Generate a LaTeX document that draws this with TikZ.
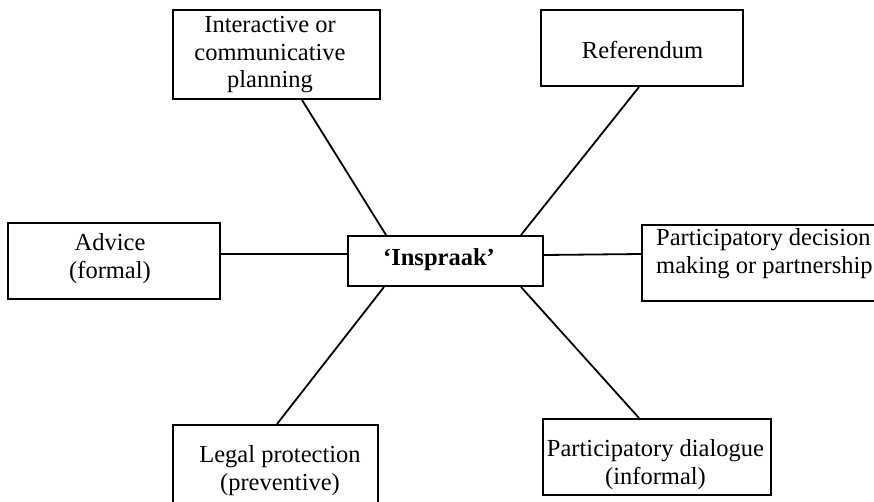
\documentclass[tikz,border=0pt]{standalone}
\usepackage{fontspec}
\setmainfont{Liberation Serif}
\begin{document}
\begin{tikzpicture}[x=1pt,y=-1pt,
  box/.style={draw, line width=2pt, inner sep=0pt},
  txt/.style={inner sep=0pt, align=center, font=\fontsize{24.5}{28}\selectfont},
  conn/.style={line width=1.8pt}]
\useasboundingbox (0,0) rectangle (874,501);
\clip (0,0) rectangle (874,501);
% boxes
\node[box, minimum width=207pt, minimum height=89pt] (inter) at (276.5,54.5) {};
\node[box, minimum width=202pt, minimum height=76pt] (ref) at (642,48) {};
\node[box, minimum width=212pt, minimum height=76pt] (adv) at (114,261) {};
\node[box, minimum width=258pt, minimum height=76pt] (pdm) at (771,263) {};
\node[box, minimum width=205pt, minimum height=95pt] (leg) at (275.5,472.5) {};
\node[box, minimum width=228pt, minimum height=76pt] (dia) at (657,457) {};
\node[box, minimum width=195pt, minimum height=50pt] (ins) at (445.5,261) {};
% texts
\node[txt, font=\fontsize{24.5}{27.5}\selectfont] (intert) at (270,55) {Interactive or\\communicative\\planning};
\node[txt] (reft) at (642.5,50) {Referendum};
\node[txt] (advt) at (110,259) {Advice\\(formal)};
\node[txt, align=left, anchor=west] (pdmt) at (656,254) {Participatory decision\\making or partnership};
\node[txt] (legt) at (280,471) {Legal protection\\(preventive)};
\node[txt] (diat) at (655.5,465) {Participatory dialogue\\(informal)};
\node[txt, font=\fontsize{24.5}{28}\selectfont\bfseries] (inst) at (439,260) {‘Inspraak’};
% connectors
\draw[conn] ([xshift=130pt]inter.south west) -- ([xshift=39pt]ins.north west);
\draw[conn] ([xshift=99pt]ref.south west) -- ([xshift=-23pt]ins.north east);
\draw[conn] ([yshift=7pt]adv.east) -- ([yshift=7pt]ins.west);
\draw[conn] ([yshift=6pt]ins.east) -- ([yshift=9pt]pdm.west);
\draw[conn] ([xshift=105pt]leg.north west) -- ([xshift=37pt]ins.south west);
\draw[conn] ([xshift=97pt]dia.north west) -- ([xshift=-23pt]ins.south east);
\end{tikzpicture}
\end{document}
